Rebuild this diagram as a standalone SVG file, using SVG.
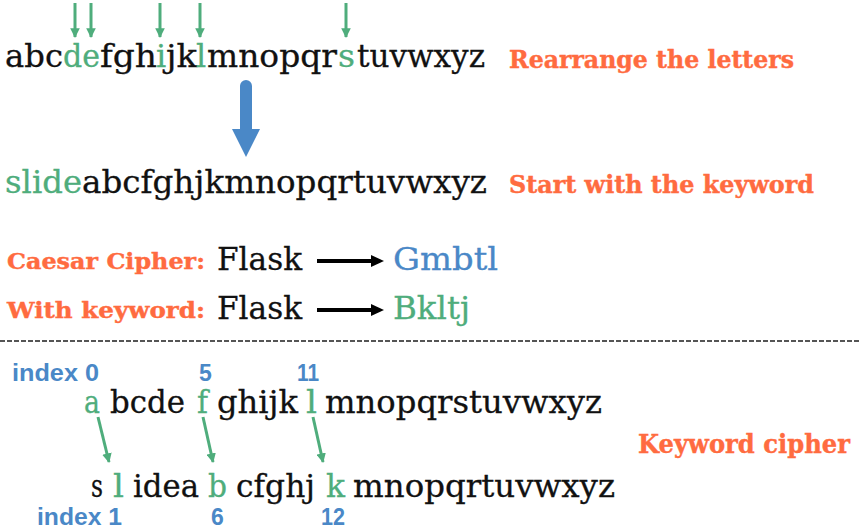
<svg xmlns="http://www.w3.org/2000/svg" width="861" height="532" viewBox="0 0 861 532">
<style>
.t{font-family:"DejaVu Serif","Liberation Serif",serif;font-size:32px;fill:#111;stroke:#111;stroke-width:0.3}
.g{fill:#4fad7c;stroke:#4fad7c}
.b{fill:#4a88c7;stroke:#4a88c7}
.o{font-family:"DejaVu Serif","Liberation Serif",serif;font-weight:bold;fill:#ff6b40;stroke:#ff6b40;stroke-width:0.4}
.ix{font-family:"Liberation Sans",Arial,sans-serif;font-weight:bold;font-size:23px;fill:#4a88c7}
.ga{stroke:#4fad7c;stroke-width:3;fill:none}
.ka{stroke:#000;stroke-width:4;fill:none}
</style>
<defs>
<marker id="gh" viewBox="0 0 10 10" refX="9" refY="5" markerWidth="3.2" markerHeight="3.2" orient="auto" markerUnits="strokeWidth">
<path d="M0,0 L10,5 L0,10 z" fill="#4fad7c"/>
</marker>
</defs>
<rect width="861" height="532" fill="#fff"/>

<g id="alphabet">
<text class="t" x="5" y="67" textLength="58" lengthAdjust="spacingAndGlyphs">abc</text>
<text class="t g" x="63" y="67" textLength="37" lengthAdjust="spacingAndGlyphs">de</text>
<text class="t" x="100" y="67" textLength="57" lengthAdjust="spacingAndGlyphs">fgh</text>
<text class="t g" x="156" y="67">i</text>
<text class="t" x="166" y="67" textLength="31" lengthAdjust="spacingAndGlyphs">jk</text>
<text class="t g" x="196" y="67">l</text>
<text class="t" x="207" y="67" textLength="130" lengthAdjust="spacingAndGlyphs">mnopqr</text>
<text class="t g" x="338" y="67" textLength="17" lengthAdjust="spacingAndGlyphs">s</text>
<text class="t" x="357" y="67" textLength="128" lengthAdjust="spacingAndGlyphs">tuvwxyz</text>
</g>
<g id="label-rearrange">
<text class="o" x="509" y="68" font-size="24" textLength="285" lengthAdjust="spacingAndGlyphs">Rearrange the letters</text>
</g>

<g id="keyword-alphabet">
<text class="t g" x="5" y="193" textLength="77" lengthAdjust="spacingAndGlyphs">slide</text>
<text class="t" x="82" y="193" textLength="405" lengthAdjust="spacingAndGlyphs">abcfghjkmnopqrtuvwxyz</text>
</g>
<g id="label-start">
<text class="o" x="509" y="193" font-size="24" textLength="305" lengthAdjust="spacingAndGlyphs">Start with the keyword</text>
</g>

<g id="caesar">
<text class="o" x="7" y="269" font-size="22" textLength="198" lengthAdjust="spacingAndGlyphs">Caesar Cipher:</text>
<text class="t" x="217" y="270" textLength="85" lengthAdjust="spacingAndGlyphs">Flask</text>
<text class="t b" x="393" y="270" textLength="105" lengthAdjust="spacingAndGlyphs">Gmbtl</text>
</g>
<g id="with-keyword">
<text class="o" x="7" y="318" font-size="22" textLength="198" lengthAdjust="spacingAndGlyphs">With keyword:</text>
<text class="t" x="217" y="319" textLength="85" lengthAdjust="spacingAndGlyphs">Flask</text>
<text class="t g" x="393" y="319" textLength="77" lengthAdjust="spacingAndGlyphs">Bkltj</text>
</g>

<g id="divider">
<line x1="0" y1="341" x2="861" y2="341" stroke="#555" stroke-width="2" stroke-dasharray="5 2"/>
</g>

<g id="plain-row">
<text class="ix" x="12" y="381" textLength="87" lengthAdjust="spacingAndGlyphs">index 0</text>
<text class="ix" x="199" y="381">5</text>
<text class="ix" x="297" y="381" textLength="22" lengthAdjust="spacingAndGlyphs">11</text>
<text class="t g" x="84" y="413" textLength="16" lengthAdjust="spacingAndGlyphs">a</text>
<text class="t" x="110" y="413" textLength="75" lengthAdjust="spacingAndGlyphs">bcde</text>
<text class="t g" x="197" y="413" textLength="11" lengthAdjust="spacingAndGlyphs">f</text>
<text class="t" x="217" y="413" textLength="81" lengthAdjust="spacingAndGlyphs">ghijk</text>
<text class="t g" x="306" y="413" textLength="11" lengthAdjust="spacingAndGlyphs">l</text>
<text class="t" x="325" y="413" textLength="277" lengthAdjust="spacingAndGlyphs">mnopqrstuvwxyz</text>
</g>

<g id="keyword-row">
<text class="t" x="91" y="497" textLength="12" lengthAdjust="spacingAndGlyphs">s</text>
<text class="t g" x="113" y="497" textLength="11" lengthAdjust="spacingAndGlyphs">l</text>
<text class="t" x="133" y="497" textLength="66" lengthAdjust="spacingAndGlyphs">idea</text>
<text class="t g" x="208" y="497" textLength="19" lengthAdjust="spacingAndGlyphs">b</text>
<text class="t" x="236" y="497" textLength="79" lengthAdjust="spacingAndGlyphs">cfghj</text>
<text class="t g" x="326" y="497" textLength="19" lengthAdjust="spacingAndGlyphs">k</text>
<text class="t" x="353" y="497" textLength="262" lengthAdjust="spacingAndGlyphs">mnopqrtuvwxyz</text>
<text class="ix" x="37" y="525" textLength="85" lengthAdjust="spacingAndGlyphs">index 1</text>
<text class="ix" x="211" y="525">6</text>
<text class="ix" x="321" y="525" textLength="24" lengthAdjust="spacingAndGlyphs">12</text>
</g>

<g id="label-keyword-cipher">
<text class="o" x="638" y="453" font-size="26" textLength="212" lengthAdjust="spacingAndGlyphs">Keyword cipher</text>
</g>

<g id="connectors">
<line class="ga" x1="75" y1="3" x2="75" y2="37" marker-end="url(#gh)"/>
<line class="ga" x1="91" y1="3" x2="91" y2="37" marker-end="url(#gh)"/>
<line class="ga" x1="160" y1="3" x2="160" y2="37" marker-end="url(#gh)"/>
<line class="ga" x1="200" y1="3" x2="200" y2="37" marker-end="url(#gh)"/>
<line class="ga" x1="346" y1="3" x2="346" y2="37" marker-end="url(#gh)"/>
<path d="M240,86 A6,6 0 0 1 252,86 L252,129 L260,129 L246,157 L232,129 L240,129 Z" fill="#4a88c7"/>
<line class="ka" x1="317" y1="261" x2="374" y2="261"/>
<path d="M371,255 L384,261 L371,267 Z" fill="#000"/>
<line class="ka" x1="317" y1="310" x2="374" y2="310"/>
<path d="M371,304 L384,310 L371,316 Z" fill="#000"/>
<line class="ga" x1="98" y1="417" x2="109" y2="462" marker-end="url(#gh)"/>
<line class="ga" x1="203" y1="417" x2="213" y2="462" marker-end="url(#gh)"/>
<line class="ga" x1="313" y1="417" x2="323" y2="462" marker-end="url(#gh)"/>
</g>
</svg>
